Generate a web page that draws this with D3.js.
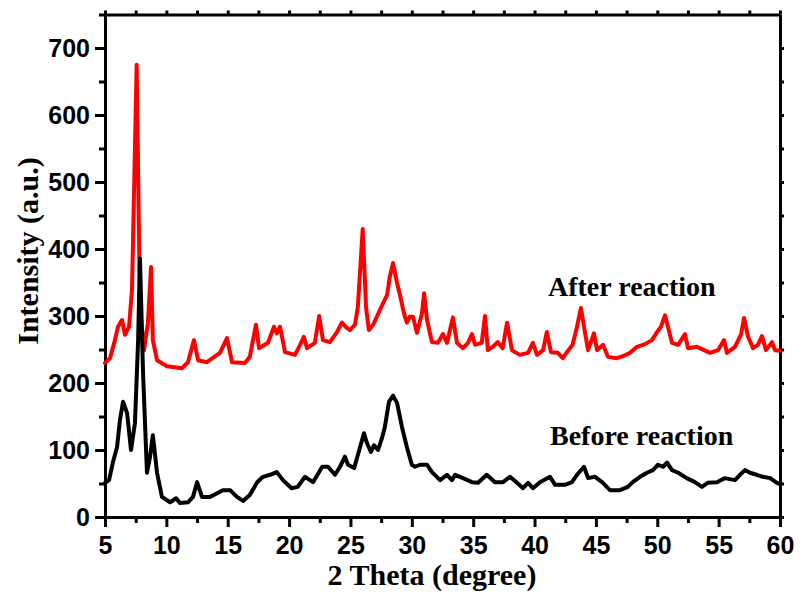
<!DOCTYPE html>
<html>
<head>
<meta charset="utf-8">
<script src="https://cdn.jsdelivr.net/npm/d3@7/dist/d3.min.js"></script>
<style>
  html, body { margin: 0; padding: 0; background: #fff; }
  svg { display: block; }
</style>
</head>
<body>
<svg id="chart" width="800" height="597"></svg>
<script>
// XRD patterns of the catalyst before and after the reaction
const afterTheta = [5.0,5.41,5.81,6.06,6.39,6.63,6.96,7.2,7.58,7.85,8.18,8.5,8.75,8.9,9.24,10.05,11.27,11.76,12.25,12.58,13.3,14.37,14.94,15.35,16.4,16.8,17.3,17.55,18.28,18.77,19.0,19.26,19.67,20.48,20.9,21.2,21.46,22.1,22.45,22.76,23.33,23.9,24.3,24.65,24.96,25.37,25.6,26.0,26.27,26.5,26.85,27.4,27.98,28.2,28.47,28.8,29.04,29.36,29.6,29.85,30.1,30.42,30.83,31.0,31.24,31.64,32.13,32.54,32.87,33.35,33.68,34.17,34.58,34.9,35.15,35.7,35.96,36.2,36.6,37.0,37.4,37.76,38.16,38.8,39.47,39.87,40.2,40.7,41.0,41.34,41.9,42.3,42.64,43.1,43.46,43.78,44.03,44.36,44.84,45.1,45.58,45.98,46.7,47.2,47.78,48.35,49.0,49.57,49.98,50.3,50.63,50.87,51.2,51.7,52.26,52.5,53.24,54.3,54.95,55.44,55.68,56.33,56.82,57.07,57.4,57.8,58.2,58.53,58.86,59.35,59.6,60.0];
const afterIntensity = [230,237,264,284,294,272,284,339,675,313,249,290,373,264,234,225,222,231,264,234,231,245,267,231,230,239,287,252,260,284,274,284,246,242,257,269,252,260,300,264,261,276,290,283,279,287,313,430,313,279,287,309,331,358,379,349,331,304,290,299,299,275,304,334,294,261,260,273,260,298,260,252,260,273,257,260,300,249,254,261,252,290,249,242,245,260,242,249,276,246,245,237,246,257,284,312,284,249,274,249,257,239,237,240,245,254,258,264,276,284,301,284,260,257,273,252,254,245,249,264,245,254,272,297,269,252,257,270,249,261,249,248];

const beforeTheta = [5.0,5.33,5.65,5.98,6.22,6.47,6.8,7.12,7.44,7.7,7.85,8.1,8.42,8.67,8.9,9.24,9.64,10.3,10.8,11.1,11.76,12.17,12.5,12.9,13.55,14.6,15.2,15.75,16.25,16.8,17.4,17.87,18.45,19.0,19.5,20.2,20.7,21.3,21.95,22.7,23.17,23.74,24.15,24.55,24.8,25.3,25.78,26.1,26.35,26.67,26.92,27.25,27.57,27.8,28.14,28.47,28.8,29.2,29.6,30.0,30.26,30.67,31.24,31.64,32.3,32.87,33.27,33.52,34.17,34.9,35.4,36.1,36.78,37.43,38.0,38.57,39.06,39.47,39.87,40.44,41.26,41.67,42.48,43.05,43.46,44.03,44.36,44.93,45.5,46.15,46.96,47.6,48.0,48.6,49.16,49.65,50.06,50.47,50.8,51.2,51.7,52.4,53.07,53.64,54.1,54.87,55.5,56.33,56.74,57.15,57.55,58.1,58.6,59.2,59.75,60.0];
const beforeIntensity = [51,55,82,104,145,172,155,100,140,264,386,215,66,90,122,66,30,22,28,21,22,30,52,30,30,40,40,30,24,33,52,60,63,67,55,43,45,60,52,75,75,63,75,90,78,73,104,125,110,97,107,100,118,134,172,181,170,134,104,78,75,78,78,67,55,63,55,63,58,52,51,63,52,52,60,51,43,51,43,52,60,48,48,52,63,75,58,60,52,40,40,45,52,60,66,70,78,75,81,70,66,58,52,45,51,52,58,55,63,70,66,63,60,58,51,49];

const xMajorTicks = [5,10,15,20,25,30,35,40,45,50,55,60];
const xMinorTicks = [7.5,12.5,17.5,22.5,27.5,32.5,37.5,42.5,47.5,52.5,57.5];
const yMajorTicks = [0,100,200,300,400,500,600,700];
const yMinorTicks = [50,150,250,350,450,550,650];

const curveLabels = ["After reaction", "Before reaction"];
const axisTitles = { x: "2 Theta (degree)", y: "Intensity (a.u.)" };

const svg = d3.select("#chart");
const plotLeft = 105, plotRight = 780, plotTop = 14.5, plotBottom = 517;

const x = d3.scaleLinear().domain([5, 60]).range([plotLeft, plotRight]);
const y = d3.scaleLinear().domain([0, 750]).range([plotBottom, plotTop]);

const tickFont = "'Liberation Sans', Arial, sans-serif";
const serif = "'Liberation Serif', 'Times New Roman', serif";

function styleAxis(g) {
  g.select(".domain").attr("stroke", "#000").attr("stroke-width", 3);
  g.selectAll(".tick line").attr("stroke", "#000").attr("stroke-width", 3);
  g.selectAll(".tick text")
    .attr("fill", "#000")
    .attr("font-family", tickFont)
    .attr("font-weight", "bold")
    .attr("font-size", 25);
}

// Bottom axis: major ticks with labels, minor ticks without
svg.append("g").attr("transform", `translate(0,${plotBottom})`)
  .call(d3.axisBottom(x).tickValues(xMinorTicks).tickSize(6).tickFormat(""))
  .call(styleAxis);
svg.append("g").attr("transform", `translate(0,${plotBottom})`)
  .call(d3.axisBottom(x).tickValues(xMajorTicks).tickSize(10).tickPadding(9).tickSizeOuter(0).tickFormat(d3.format("d")))
  .call(styleAxis);

// Left axis
svg.append("g").attr("transform", `translate(${plotLeft},0)`)
  .call(d3.axisLeft(y).tickValues(yMinorTicks).tickSize(6).tickFormat(""))
  .call(styleAxis);
svg.append("g").attr("transform", `translate(${plotLeft},0)`)
  .call(d3.axisLeft(y).tickValues(yMajorTicks).tickSize(10).tickPadding(5).tickSizeOuter(0).tickFormat(d3.format("d")))
  .call(styleAxis);

// Top and right frame with short outward ticks
svg.append("g").attr("transform", `translate(0,${plotTop})`)
  .call(d3.axisTop(x).tickValues(xMajorTicks.concat(xMinorTicks)).tickSize(4).tickSizeOuter(0).tickFormat(""))
  .call(styleAxis);
svg.append("g").attr("transform", `translate(${plotRight},0)`)
  .call(d3.axisRight(y).tickValues(yMajorTicks.concat(yMinorTicks)).tickSize(4).tickSizeOuter(0).tickFormat(""))
  .call(styleAxis);

// Patterns
const line = d3.line().x(d => x(d[0])).y(d => y(d[1])).curve(d3.curveLinear);
const afterData = afterTheta.map((t, i) => [t, afterIntensity[i]]);
const beforeData = beforeTheta.map((t, i) => [t, beforeIntensity[i]]);

svg.append("path").datum(afterData)
  .attr("d", line).attr("fill", "none")
  .attr("stroke", "#ff0000").attr("stroke-width", 4)
  .attr("stroke-linejoin", "round").attr("stroke-linecap", "round");
svg.append("path").datum(beforeData)
  .attr("d", line).attr("fill", "none")
  .attr("stroke", "#000").attr("stroke-width", 4)
  .attr("stroke-linejoin", "round").attr("stroke-linecap", "round");

// Curve labels
svg.append("text").attr("x", 548).attr("y", 296)
  .attr("font-family", serif).attr("font-weight", "bold").attr("font-size", 28)
  .text(curveLabels[0]);
svg.append("text").attr("x", 550).attr("y", 445)
  .attr("font-family", serif).attr("font-weight", "bold").attr("font-size", 28)
  .text(curveLabels[1]);

// Axis titles
svg.append("text").attr("x", 432).attr("y", 585)
  .attr("text-anchor", "middle")
  .attr("font-family", serif).attr("font-weight", "bold").attr("font-size", 30)
  .text(axisTitles.x);
svg.append("text")
  .attr("transform", "translate(38,251) rotate(-90)")
  .attr("text-anchor", "middle")
  .attr("font-family", serif).attr("font-weight", "bold").attr("font-size", 30)
  .text(axisTitles.y);
</script>
</body>
</html>
